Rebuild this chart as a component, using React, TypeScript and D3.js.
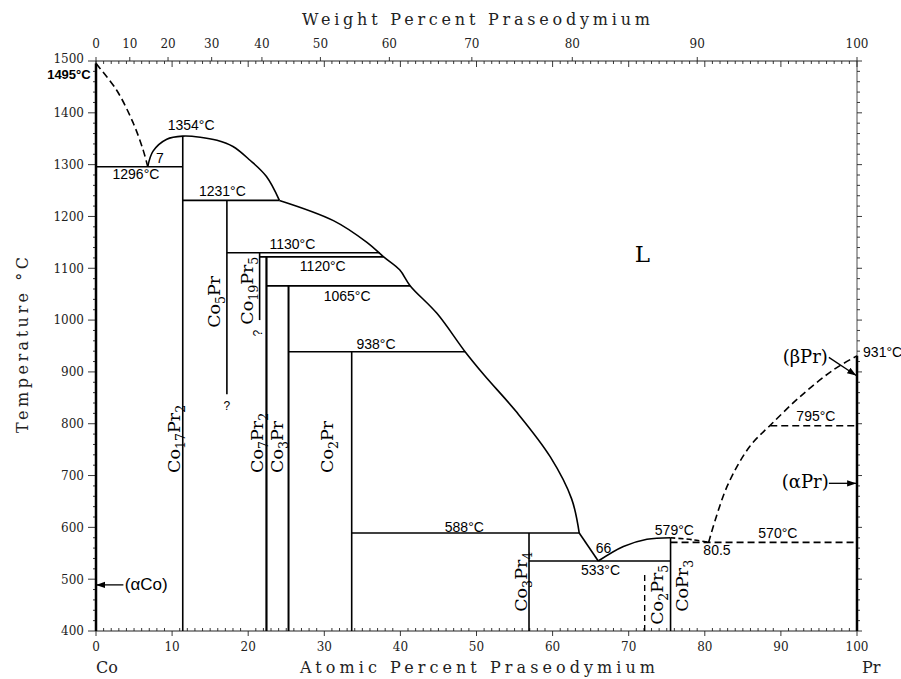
import * as d3 from "d3";

const W = 901;
const H = 679;

// axis values
const tempTicks = d3.range(400, 1501, 100);
const tempMinor = d3.range(400, 1501, 20);
const atTicks = d3.range(0, 101, 10);
const atMinor = d3.range(0, 101, 1);
const wtTicks = d3.range(0, 101, 10);

// liquidus / boundary curves, [at.% Pr, °C]
const coLiquidus = [[0, 1495], [2.7, 1444], [4.9, 1380], [6.2, 1328], [6.8, 1296]];
const co17Liquidus = [[6.8, 1296], [7.5, 1326], [9.3, 1349], [11.4, 1355], [13.7, 1353], [15.9, 1347], [18, 1335], [20.2, 1309], [22.4, 1277], [24.1, 1231]];
const mainLiquidus = [[24.1, 1231], [31.2, 1192], [35.6, 1150], [37.8, 1122], [39.9, 1097], [41.3, 1066], [44.8, 1013], [48.5, 939], [51, 894], [55.3, 822], [59.7, 736], [62.5, 655], [63.5, 589]];
const eutecticLiquidus = [[63.5, 589], [66, 535]];
const coPr3Liquidus = [[66, 535], [69.3, 563], [72.4, 577], [75.5, 580]];
const coPr3Dashed = [[75.5, 580], [78.5, 576], [80.5, 571]];
const prLiquidus = [[80.5, 571], [82.9, 678], [85.9, 756], [88.6, 797], [92.5, 852], [96.9, 904], [100, 931]];

// horizontal invariant lines: [from at.%, to at.%, °C, dashed]
const isotherms: [number, number, number, boolean][] = [
  [0, 11.4, 1296, false],
  [11.4, 24.1, 1231, false],
  [17.2, 37.3, 1130, false],
  [21.5, 37.8, 1122, false],
  [22.4, 41.3, 1066, false],
  [25.3, 48.5, 939, false],
  [33.6, 63.5, 589, false],
  [56.9, 75.5, 535, false],
  [75.5, 100, 571, true],
  [88.6, 100, 796, true],
];

// vertical phase lines: [at.%, bottom °C, top °C, dashed, width]
const verticals: [number, number, number, boolean, number][] = [
  [0, 400, 1495, false, 2.5],
  [11.4, 400, 1355, false, 1.6],
  [17.2, 857, 1231, false, 1.6],
  [21.5, 1000, 1130, false, 1.6],
  [22.4, 400, 1122, false, 2.2],
  [25.3, 400, 1066, false, 2],
  [33.6, 400, 939, false, 1.6],
  [56.9, 400, 589, false, 1.6],
  [72.1, 400, 515, true, 1.4],
  [75.5, 400, 580, false, 1.6],
  [100, 400, 931, false, 2.5],
];

// temperature labels: [at.%, °C, text, anchor]
const tempLabels: [number, number, string, string][] = [
  [-0.7, 1466, "1495°C", "end"],
  [12.5, 1366, "1354°C", "middle"],
  [8.4, 1303, "7", "middle"],
  [5.25, 1273, "1296°C", "middle"],
  [16.6, 1239, "1231°C", "middle"],
  [25.8, 1137, "1130°C", "middle"],
  [29.8, 1095, "1120°C", "middle"],
  [33, 1037, "1065°C", "middle"],
  [36.8, 944, "938°C", "middle"],
  [48.4, 592, "588°C", "middle"],
  [66.7, 551, "66", "middle"],
  [66.3, 508, "533°C", "middle"],
  [76, 585, "579°C", "middle"],
  [81.6, 547, "80.5", "middle"],
  [89.6, 580, "570°C", "middle"],
  [94.6, 805, "795°C", "middle"],
  [100.8, 929, "931°C", "start"],
];

// compound labels, rotated: [at.% of baseline, °C at start, name]
const compounds: [number, number, string][] = [
  [11.0, 705, "Co17Pr2"],
  [16.3, 985, "Co5Pr"],
  [20.6, 991, "Co19Pr5"],
  [22.0, 705, "Co7Pr2"],
  [24.6, 705, "Co3Pr"],
  [31.2, 705, "Co2Pr"],
  [56.6, 437, "Co3Pr4"],
  [74.5, 412, "Co2Pr5"],
  [77.8, 437, "CoPr3"],
];

// phase arrows: [label, label at.%, label °C, from at.%, from °C, to at.%, to °C, font]
const phaseArrows: [string, number, number, number, number, number, number, string][] = [
  ["(αCo)", 6.6, 479, 3.6, 489, 0, 489, "sans"],
  ["(βPr)", 93.2, 917, 96.3, 928, 99.9, 893, "serif"],
  ["(αPr)", 93.2, 676, 96.3, 685, 99.9, 685, "serif"],
];

const MW_PR = 140.908;
const MW_CO = 58.933;
const wtToAt = (w: number) => {
  const a = w / MW_PR;
  const b = (100 - w) / MW_CO;
  return (100 * a) / (a + b);
};

const serif = "'DejaVu Serif', serif";
const sans = "'Liberation Sans', Arial, sans-serif";

function Formula({ name, size }: { name: string; size: number }) {
  const parts = name.split(/(\d+)/).filter((p) => p.length);
  let shifted = false;
  return (
    <>
      {parts.map((p, i) => {
        const isSub = /^\d+$/.test(p);
        let dy = 0;
        if (isSub && !shifted) { dy = 5; shifted = true; }
        else if (!isSub && shifted) { dy = -5; shifted = false; }
        return (
          <tspan key={i} dy={dy} fontSize={isSub ? size * 0.72 : size}>{p}</tspan>
        );
      })}
    </>
  );
}

export default function App() {
  const x = d3.scaleLinear().domain([0, 100]).range([96, 857]);
  const y = d3.scaleLinear().domain([400, 1500]).range([631, 61]);

  const line = d3.line<number[]>()
    .x((d) => x(d[0]))
    .y((d) => y(d[1]))
    .curve(d3.curveCatmullRom.alpha(0.5));

  const dash = "7 4";

  return (
    <svg width={W} height={H} style={{ position: "absolute", left: 0, top: 0, background: "#fff" }}>
      <defs>
        <marker id="ah" viewBox="0 0 10 10" refX="10" refY="5" markerWidth="7" markerHeight="7" orient="auto">
          <path d="M0,1.5 L10,5 L0,8.5 z" fill="#000" />
        </marker>
      </defs>

      {/* frame */}
      <g stroke="#222" fill="none">
        <line x1={x(0)} x2={x(100)} y1={y(400)} y2={y(400)} strokeWidth={1} />
        <line x1={x(0)} x2={x(100)} y1={y(1500)} y2={y(1500)} strokeWidth={1} />
        <line x1={x(0)} x2={x(0)} y1={y(400)} y2={y(1500)} strokeWidth={1} />
        <line x1={x(100)} x2={x(100)} y1={y(400)} y2={y(1500)} strokeWidth={0.8} />
      </g>

      {/* ticks */}
      <g stroke="#222" strokeWidth={0.9}>
        {atMinor.map((v) => {
          const major = v % 10 === 0;
          return (
            <g key={"at" + v}>
              <line x1={x(v)} x2={x(v)} y1={y(400)} y2={y(400) + (major ? 5 : -3)} />
              <line x1={x(v)} x2={x(v)} y1={y(1500)} y2={y(1500) + (major ? 6 : 3)} />
            </g>
          );
        })}
        {wtTicks.map((w) => (
          <line key={"wt" + w} x1={x(wtToAt(w))} x2={x(wtToAt(w))} y1={y(1500)} y2={y(1500) - 4} />
        ))}
        {tempMinor.map((t) => {
          const major = t % 100 === 0;
          return (
            <g key={"t" + t}>
              <line x1={x(0) - (major ? 8 : 3)} x2={x(0)} y1={y(t)} y2={y(t)} />
              <line x1={x(100)} x2={x(100) + (major ? 5 : 3)} y1={y(t)} y2={y(t)} />
            </g>
          );
        })}
      </g>

      {/* tick labels */}
      <g fontFamily={serif} fontSize={12} fill="#222">
        {tempTicks.map((t) => (
          <text key={t} x={x(0) - 12} y={y(t)} dy={t === 1500 ? "0.2em" : "0.36em"} textAnchor="end">{t}</text>
        ))}
        {atTicks.map((v) => (
          <text key={v} x={x(v)} y={651} textAnchor="middle">{v}</text>
        ))}
        {wtTicks.map((w) => (
          <text key={w} x={x(wtToAt(w))} y={48} textAnchor="middle">{w}</text>
        ))}
      </g>

      {/* axis titles */}
      <g fontFamily={serif} fontSize={16} fill="#222">
        <text x={302} y={25} textLength={348} lengthAdjust="spacing">Weight Percent Praseodymium</text>
        <text x={300} y={673} textLength={355} lengthAdjust="spacing">Atomic Percent Praseodymium</text>
        <text x={96} y={673}>Co</text>
        <text x={862} y={673}>Pr</text>
        <text transform="translate(28,433) rotate(-90)" textLength={176} lengthAdjust="spacing">Temperature °C</text>
      </g>

      {/* phase boundaries */}
      <g fill="none" stroke="#000" strokeWidth={1.6}>
        <path d={line(coLiquidus) ?? ""} strokeDasharray={dash} />
        <path d={line(co17Liquidus) ?? ""} />
        <path d={line(mainLiquidus) ?? ""} />
        <path d={line(eutecticLiquidus) ?? ""} />
        <path d={line(coPr3Liquidus) ?? ""} />
        <path d={line(coPr3Dashed) ?? ""} strokeDasharray="5 3" />
        <path d={line(prLiquidus) ?? ""} strokeDasharray={dash} />
        {isotherms.map(([a, b, t, dashed], i) => (
          <line key={"iso" + i} x1={x(a)} x2={x(b)} y1={y(t)} y2={y(t)}
            strokeDasharray={dashed ? dash : undefined} />
        ))}
        {verticals.map(([a, t0, t1, dashed, sw], i) => (
          <line key={"v" + i} x1={x(a)} x2={x(a)} y1={y(t0)} y2={y(t1)} strokeWidth={sw}
            strokeDasharray={dashed ? "6 4" : undefined} />
        ))}
      </g>

      {/* temperature labels */}
      <g fontFamily={sans} fontSize={14} fill="#000">
        {tempLabels.map(([a, t, s, anchor], i) => (
          <text key={"tl" + i} x={x(a)} y={y(t)} textAnchor={anchor}
            fontSize={i === 0 ? 13 : 14} fontWeight={i === 0 ? "bold" : "normal"}>{s}</text>
        ))}
        <text x={x(17.2)} y={y(826)} textAnchor="middle" fontSize={12}>?</text>
        <text transform={`translate(${x(21.8)},${y(975)}) rotate(-90)`} textAnchor="middle" fontSize={12}>?</text>
      </g>

      {/* compound labels */}
      <g fontFamily={serif} fill="#000">
        {compounds.map(([a, t, name]) => (
          <text key={name} transform={`translate(${x(a)},${y(t)}) rotate(-90)`} fontSize={17.5}>
            <Formula name={name} size={17.5} />
          </text>
        ))}
        <text x={x(71.8)} y={y(1112)} textAnchor="middle" fontSize={23}>L</text>
      </g>

      {/* phase arrows */}
      <g>
        {phaseArrows.map(([label, la, lt, fa, ft, ta, tt, font]) => (
          <g key={label}>
            <line x1={x(fa)} y1={y(ft)} x2={x(ta)} y2={y(tt)} stroke="#000" strokeWidth={1.3} markerEnd="url(#ah)" />
            <text x={x(la)} y={y(lt)} textAnchor="middle"
              fontFamily={font === "sans" ? sans : serif} fontSize={font === "sans" ? 17 : 18}>{label}</text>
          </g>
        ))}
      </g>
    </svg>
  );
}
